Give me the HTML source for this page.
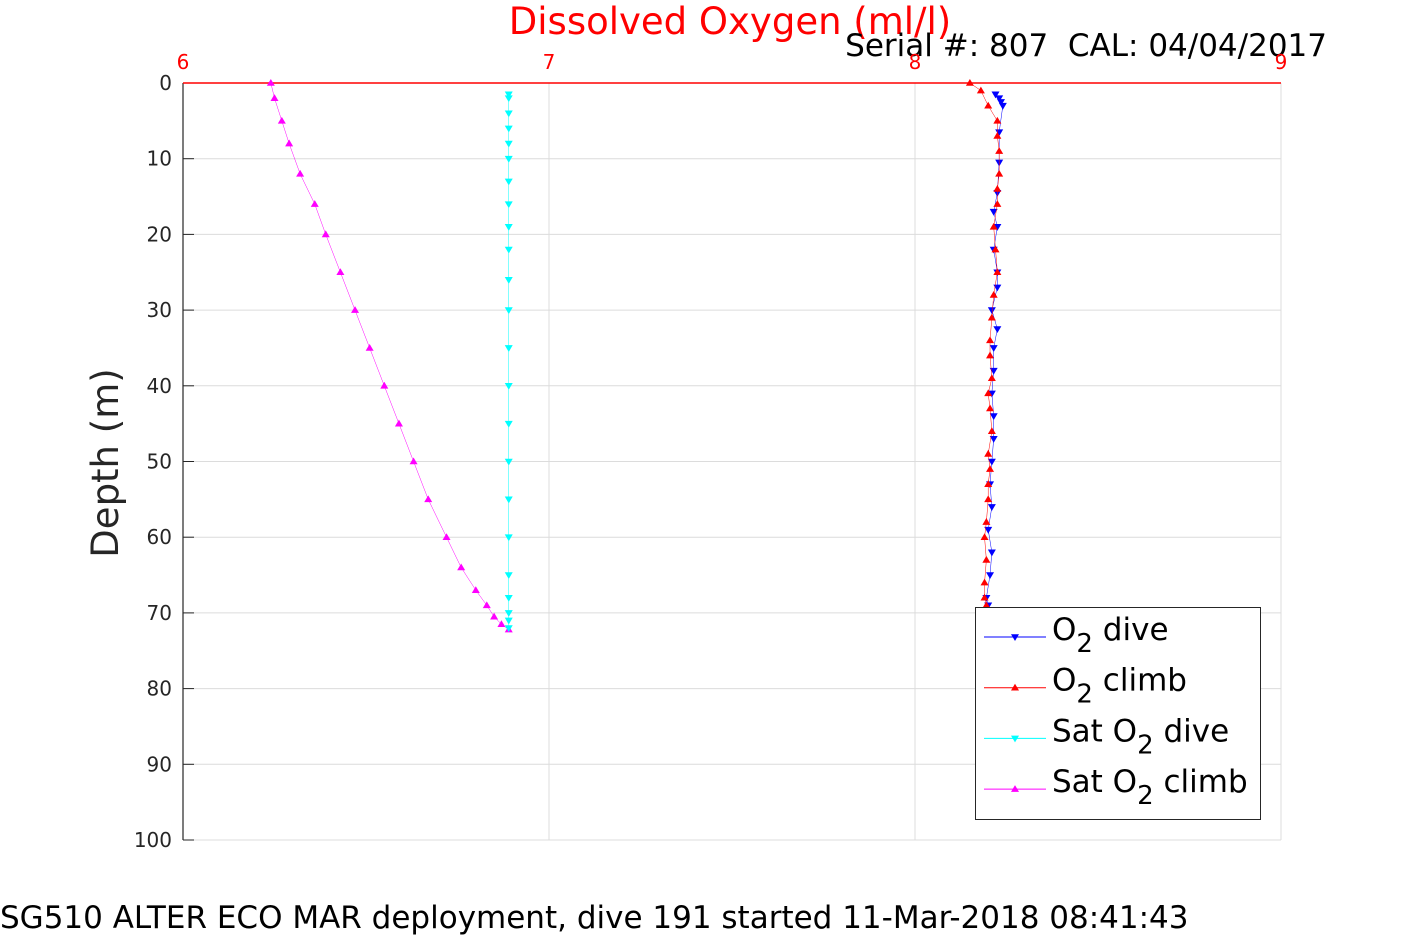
<!DOCTYPE html>
<html><head><meta charset="utf-8"><style>
body{margin:0;background:#fff;font-family:"Liberation Sans","DejaVu Sans",sans-serif}
svg text{font-family:"DejaVu Sans","Liberation Sans",sans-serif}
</style></head><body>
<svg id="chart" width="1417" height="945" xmlns="http://www.w3.org/2000/svg">
<text x="730" y="34" font-size="37" fill="#ff0000" text-anchor="middle">Dissolved Oxygen (ml/l)</text>
<text x="1327" y="56" font-size="31" fill="#000" text-anchor="end">Serial #: 807&#160; CAL: 04/04/2017</text>
<text transform="translate(118,463) rotate(-90)" font-size="37" fill="#262626" text-anchor="middle">Depth (m)</text>
<text x="0" y="928" font-size="31" fill="#000">SG510 ALTER ECO MAR deployment, dive 191 started 11-Mar-2018 08:41:43</text>
<g id="grid"></g><g id="axes"></g><g id="series"></g><g id="legend"></g>
</svg>
<script>
const xTicks=[6,7,8,9];
const yTicks=[0,10,20,30,40,50,60,70,80,90,100];
const satClimbDepth=[0,2,5,8,12,16,20,25,30,35,40,45,50,55,60,64,67,69,70.5,71.5,72.2];
const satClimbVal=[6.24,6.25,6.27,6.29,6.32,6.36,6.39,6.43,6.47,6.51,6.55,6.59,6.63,6.67,6.72,6.76,6.80,6.83,6.85,6.87,6.89];
const satDiveDepth=[1.5,2,4,6,8,10,13,16,19,22,26,30,35,40,45,50,55,60,65,68,70,71,72];
const satDiveVal=[6.89,6.89,6.89,6.89,6.89,6.89,6.89,6.89,6.89,6.89,6.89,6.89,6.89,6.89,6.89,6.89,6.89,6.89,6.89,6.89,6.89,6.89,6.89];
const o2DiveDepth=[1.5,2,2.5,3,6.5,10.5,14.5,17,19,22,25,27,30,32.5,35,38,41,44,47,50,53,56,59,62,65,68,69];
const o2DiveVal=[8.22,8.23,8.235,8.24,8.23,8.23,8.225,8.215,8.225,8.215,8.225,8.225,8.21,8.225,8.215,8.215,8.21,8.215,8.215,8.21,8.205,8.21,8.2,8.21,8.205,8.195,8.2];
const o2ClimbDepth=[0,1,3,5,7,9,12,14,16,19,22,25,28,31,34,36,39,41,43,46,49,51,53,55,58,60,63,66,68,69];
const o2ClimbVal=[8.15,8.18,8.2,8.225,8.225,8.23,8.23,8.225,8.225,8.215,8.22,8.225,8.215,8.21,8.205,8.205,8.21,8.2,8.205,8.21,8.2,8.205,8.2,8.2,8.195,8.19,8.195,8.19,8.19,8.195];
const L=183,R=1281,T=83,B=840;
const xs=v=>L+(v-6)/3*(R-L);
const ys=d=>T+d/100*(B-T);
const NS='http://www.w3.org/2000/svg';
function mk(tag,attrs,parent){const e=document.createElementNS(NS,tag);for(const k in attrs)e.setAttribute(k,attrs[k]);parent.appendChild(e);return e;}
const grid=document.getElementById('grid'),axes=document.getElementById('axes'),ser=document.getElementById('series'),leg=document.getElementById('legend');
xTicks.forEach(t=>{const l=mk('line',{x1:xs(t),x2:xs(t),y1:T,y2:B,stroke:'#dcdcdc','stroke-width':1},grid);

const tx=mk('text',{x:xs(t),y:69,'font-size':20,fill:'#ff0000','text-anchor':'middle'},axes);tx.textContent=t;
});
yTicks.forEach(t=>{const l=mk('line',{x1:L,x2:R,y1:ys(t),y2:ys(t),stroke:'#dcdcdc','stroke-width':1},grid);

const tk=mk('line',{x1:L,x2:L+11,y1:ys(t),y2:ys(t),stroke:'#262626','stroke-width':1},axes);

const tx=mk('text',{x:172,y:ys(t)+7,'font-size':20,fill:'#262626','text-anchor':'end'},axes);tx.textContent=t;
});
const ya=mk('line',{x1:L,x2:L,y1:T,y2:B,stroke:'#262626','stroke-width':1.2},axes);

const xa=mk('line',{x1:L,x2:R,y1:T,y2:T,stroke:'#ff0000','stroke-width':1.5},axes);

function tri(cx,cy,up,color,parent){const s=4;const p=up?`${cx},${cy-s} ${cx-s},${cy+s*0.7} ${cx+s},${cy+s*0.7}`:`${cx},${cy+s} ${cx-s},${cy-s*0.7} ${cx+s},${cy-s*0.7}`;return mk('polygon',{points:p,fill:color},parent);}
function series(name,dep,val,color,up){const g=mk('g',{},ser);
const pl=mk('polyline',{points:dep.map((d,i)=>xs(val[i])+','+ys(d)).join(' '),fill:'none',stroke:color,'stroke-width':0.5},g);

dep.forEach((d,i)=>{const m=tri(xs(val[i]),ys(d),up,color,g);});}
series('sat-o2-climb',satClimbDepth,satClimbVal,'#ff00ff',true);
series('sat-o2-dive',satDiveDepth,satDiveVal,'#00ffff',false);
series('o2-dive',o2DiveDepth,o2DiveVal,'#0000ff',false);
series('o2-climb',o2ClimbDepth,o2ClimbVal,'#ff0000',true);
const box=mk('rect',{x:975.5,y:607.5,width:285,height:212,fill:'#fff',stroke:'#262626','stroke-width':1},leg);

const entries=[['O','2',' dive','#0000ff',false,'','legend-o2-dive'],['O','2',' climb','#ff0000',true,'','legend-o2-climb'],['Sat O','2',' dive','#00ffff',false,'','legend-sat-o2-dive'],['Sat O','2',' climb','#ff00ff',true,'','legend-sat-o2-climb']];
entries.forEach((e,i)=>{const y=637+i*50.7;const g=mk('g',{},leg);
mk('line',{x1:984,x2:1046,y1:y,y2:y,stroke:e[3],'stroke-width':1},g);tri(1015,y,e[4],e[3],g);
const t=mk('text',{x:1052,y:y+3,'font-size':31,fill:'#000'},g);
const a=mk('tspan',{},t);a.textContent=e[0];const b=mk('tspan',{dy:12,'font-size':26},t);b.textContent=e[1];const c=mk('tspan',{dy:-12},t);c.textContent=e[2];});
</script>
</body></html>
